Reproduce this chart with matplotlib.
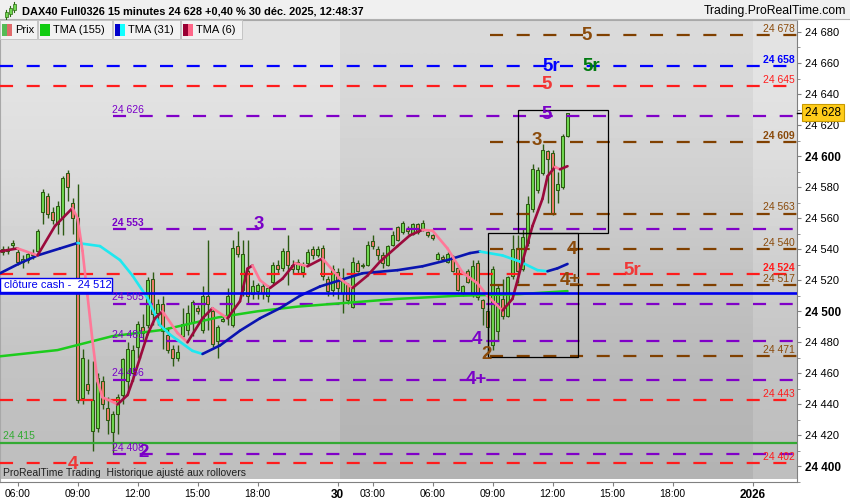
import matplotlib
matplotlib.use("Agg")
import matplotlib.pyplot as plt
from matplotlib.patches import Rectangle
from matplotlib.collections import LineCollection
from matplotlib.transforms import blended_transform_factory

plt.rcParams['font.family'] = ['Liberation Sans', 'DejaVu Sans']
plt.rcParams['lines.scale_dashes'] = False

# ---------------- data ----------------
# 15 min bars : 29 dec 05:15 -> 21:45 (0..66), 30 dec 01:15 -> 12:45 (67..113)
opens = [24540, 24539, 24543, 24538, 24532, 24533, 24537, 24539, 24564, 24574,
         24564, 24556, 24561, 24589, 24570, 24560, 24444, 24453, 24423, 24425,
         24455, 24438, 24422, 24434, 24446, 24455, 24460, 24477, 24490, 24491,
         24521, 24499, 24505, 24485, 24476, 24470, 24484, 24488, 24493, 24502,
         24488, 24510, 24500, 24481, 24494, 24496, 24491, 24542, 24514, 24526,
         24511, 24513, 24516, 24510, 24519, 24530, 24528, 24539, 24530, 24527,
         24525, 24531, 24540, 24536, 24541, 24521, 24514, 24525, 24512, 24517,
         24503, 24531, 24529, 24530, 24545, 24540, 24536, 24530, 24543, 24554,
         24551, 24553, 24550, 24556, 24553, 24551, 24549, 24534, 24535, 24532,
         24535, 24528, 24512, 24526, 24511, 24531, 24507, 24500, 24478, 24487,
         24508, 24497, 24523, 24541, 24527, 24544, 24566, 24578, 24589, 24603,
         24602, 24578, 24580, 24613]
highs = [24542, 24542, 24546, 24540, 24536, 24538, 24540, 24553, 24579, 24576,
         24567, 24571, 24587, 24591, 24573, 24582, 24476, 24469, 24468, 24460,
         24458, 24445, 24436, 24447, 24470, 24480, 24478, 24494, 24498, 24522,
         24525, 24508, 24510, 24490, 24478, 24478, 24502, 24504, 24507, 24504,
         24516, 24546, 24502, 24491, 24497, 24515, 24546, 24552, 24546, 24546,
         24520, 24518, 24518, 24517, 24532, 24533, 24541, 24549, 24533, 24534,
         24532, 24540, 24542, 24542, 24543, 24523, 24530, 24528, 24528, 24518,
         24535, 24533, 24531, 24545, 24549, 24542, 24538, 24543, 24552, 24555,
         24558, 24555, 24557, 24557, 24559, 24552, 24550, 24538, 24536, 24538,
         24536, 24530, 24517, 24527, 24533, 24533, 24508, 24502, 24529, 24517,
         24521, 24523, 24549, 24549, 24553, 24574, 24595, 24593, 24608, 24604,
         24604, 24590, 24614, 24628]
lows = [24536, 24537, 24541, 24530, 24528, 24531, 24534, 24537, 24556, 24560,
        24556, 24550, 24549, 24571, 24550, 24441, 24440, 24447, 24410, 24422,
        24437, 24421, 24408, 24421, 24440, 24447, 24455, 24470, 24481, 24489,
        24491, 24491, 24476, 24473, 24465, 24468, 24483, 24485, 24484, 24498,
        24486, 24488, 24477, 24470, 24493, 24491, 24490, 24535, 24510, 24505,
        24508, 24508, 24508, 24506, 24517, 24524, 24526, 24517, 24524, 24524,
        24522, 24530, 24534, 24535, 24520, 24510, 24510, 24508, 24499, 24505,
        24502, 24525, 24528, 24529, 24540, 24533, 24528, 24529, 24542, 24545,
        24550, 24550, 24549, 24550, 24552, 24548, 24546, 24533, 24533, 24531,
        24525, 24513, 24510, 24518, 24509, 24507, 24491, 24472, 24475, 24481,
        24495, 24496, 24521, 24518, 24526, 24542, 24564, 24576, 24588, 24570,
        24562, 24570, 24579, 24612]
closes = [24538, 24540, 24544, 24532, 24534, 24537, 24536, 24552, 24577, 24563,
          24559, 24568, 24586, 24580, 24560, 24443, 24470, 24449, 24443, 24457,
          24440, 24430, 24434, 24445, 24469, 24476, 24475, 24492, 24486, 24520,
          24498, 24505, 24487, 24475, 24470, 24474, 24492, 24499, 24506, 24500,
          24510, 24505, 24479, 24490, 24495, 24510, 24541, 24537, 24537, 24510,
          24516, 24517, 24512, 24515, 24530, 24527, 24539, 24530, 24527, 24532,
          24530, 24538, 24536, 24540, 24523, 24513, 24527, 24515, 24520, 24507,
          24532, 24526, 24530, 24543, 24542, 24536, 24531, 24542, 24549, 24546,
          24557, 24552, 24556, 24551, 24557, 24549, 24547, 24537, 24534, 24537,
          24526, 24514, 24516, 24519, 24529, 24509, 24502, 24490, 24527, 24515,
          24497, 24522, 24540, 24526, 24548, 24569, 24592, 24591, 24604, 24598,
          24563, 24582, 24613, 24628]

# moving averages (bar index, value)
tma155_x = [-0.5, 11, 22, 32, 43, 51, 59, 67, 79, 91, 103, 113]
tma155 = [24471, 24475, 24484, 24488, 24496, 24500, 24503, 24505, 24508, 24510, 24511, 24513]

tma31_x = [-0.5, 3.5, 7, 11.5, 15, 19.5, 23.5, 26, 29, 31.5, 33.5, 35, 38, 40, 43.5,
           47.5, 51.5, 55.5, 59.5, 63.5, 67.5, 72, 79, 84, 89, 93.5, 95.5, 100,
           103.5, 107, 109, 111, 113]
tma31 = [24524.5, 24531, 24536, 24540.5, 24544, 24542, 24533, 24523, 24508.5, 24491,
         24485, 24481.5, 24474.5, 24472.5, 24478, 24487.5, 24495.5, 24502, 24510,
         24516, 24520, 24524.5, 24526.5, 24529, 24533, 24537.5, 24538.5, 24536,
         24532, 24526.5, 24525.8, 24527.7, 24530.5]

tma6_x = [-0.5, 3, 7, 10.5, 14, 15, 16, 17, 18, 19, 20, 21.5, 23, 25, 26, 27.5, 29,
          30.5, 32, 35, 37, 40, 42, 45, 47.5, 49, 50, 51.5, 53.5, 56, 58.5, 61, 64,
          67.5, 70, 73, 75.5, 79, 81.5, 84, 86, 89, 92, 95, 97, 100, 102, 104, 106,
          108, 109, 110.5, 111.5, 113]
tma6 = [24538.6, 24540.5, 24536, 24555, 24566.5, 24560, 24539, 24510, 24481, 24455,
        24444.5, 24442.5, 24440, 24446, 24455, 24470, 24485, 24495.5, 24500, 24486,
        24480, 24495.5, 24502, 24495.5, 24506.5, 24527.5, 24529.5, 24520, 24515,
        24521, 24531, 24529, 24534, 24521, 24515, 24523, 24532, 24542, 24549,
        24552.5, 24552, 24540.5, 24525, 24518, 24510, 24500.5, 24508, 24532, 24555,
        24572.5, 24587, 24593, 24591.5, 24593.5]

red_levels = [24645, 24524, 24443, 24402]
purple_levels = [24626, 24553, 24505, 24481, 24456, 24408]
brown_levels = [24678, 24609, 24563, 24540, 24517, 24471]
blue_level = 24658
cash_close = 24512
green_level = 24415
last_price = 24628

# boxes: (first bar, last bar, low, high)
boxes = [(103, 121, 24550.5, 24630), (97, 115, 24470.5, 24550.5)]

tick_pos = [3, 15, 27, 39, 51, 67, 74, 86, 98, 110, 122, 134, 150]
tick_labels = ['06:00', '09:00', '12:00', '15:00', '18:00', '30', '03:00',
               '06:00', '09:00', '12:00', '15:00', '18:00', '2026']

title = "DAX40 Full0326 15 minutes 24 628 +0,40 % 30 déc. 2025, 12:48:37"

BROWN = '#8a4a0a'
PURPLE = '#7a00c8'
RED = '#ff1c1c'
BLUE = '#0000ff'

W, H = 850, 500


def fx(px):
    return px / W


def fy(py):
    return 1 - py / H


def fmt(v):
    return "{:,}".format(int(v)).replace(",", " ")


fig = plt.figure(figsize=(8.5, 5), dpi=100, facecolor='white')
ax = fig.add_axes([0, fy(482), fx(797), (482 - 20) / H])

# background gradient (day 29 / day 30 / future)
for x0, x1, top, bot in [(-0.5, 67.5, 0.90, 0.74), (67.5, 150, 0.86, 0.70), (150, 158.9, 0.90, 0.74)]:
    ax.imshow([[top], [bot]], extent=(x0, x1, 24392, 24687.7), cmap='gray', vmin=0, vmax=1,
              aspect='auto', interpolation='bicubic', zorder=0)
ax.set_xlim(-0.5, 158.9)
ax.set_ylim(24392, 24687.7)

# candles
for i in range(len(opens)):
    o, h, l, c = opens[i], highs[i], lows[i], closes[i]
    ax.vlines(i, l, h, color='#2c5a12', lw=1.0, zorder=2)
    if abs(c - o) < 1:
        ax.hlines(o, i - 0.35, i + 0.35, color='#2c5a12', lw=1.0, zorder=2)
    else:
        fc = '#70d850' if c > o else '#ee7a6a'
        ax.add_patch(Rectangle((i - 0.34, min(o, c)), 0.68, abs(c - o), facecolor=fc,
                               edgecolor='#2c5a12', lw=0.75, zorder=2.1))


def colored_line(xs, ys, up, down, lw=1.9):
    segs, cols = [], []
    for k in range(len(xs) - 1):
        segs.append([(xs[k], ys[k]), (xs[k + 1], ys[k + 1])])
        cols.append(up if ys[k + 1] >= ys[k] else down)
    ax.add_collection(LineCollection(segs, colors=cols, linewidths=lw, capstyle='round', zorder=3.5))


ax.plot(tma155_x, tma155, color='#1ccc1c', lw=1.8, zorder=3.4, solid_capstyle='round')
colored_line(tma31_x, tma31, '#0a14b0', '#1ee8f0')
colored_line(tma6_x, tma6, '#9b0a3c', '#ff7898')

# horizontal levels
dash = (9.4, 9.8)
for lv in red_levels:
    ax.plot([-0.5, 158.9], [lv, lv], color=RED, lw=1.6, dashes=dash, zorder=3)
ax.plot([-0.5, 158.9], [blue_level] * 2, color=BLUE, lw=1.6, dashes=dash, zorder=3)
for lv in purple_levels:
    ax.plot([22, 158.9], [lv, lv], color='#8000c8', lw=1.6, dashes=dash, zorder=3)
for lv in brown_levels:
    ax.plot([97.5, 158.9], [lv, lv], color='#804000', lw=1.6, dashes=dash, zorder=3)
ax.plot([-0.5, 158.9], [cash_close] * 2, color='#0000ee', lw=1.9, zorder=3.6)
ax.plot([-0.5, 158.9], [green_level] * 2, color='#33aa33', lw=1.6, zorder=3)

for b in boxes:
    ax.add_patch(Rectangle((b[0], b[2]), b[1] - b[0], b[3] - b[2], fill=False,
                           edgecolor='black', lw=0.9, zorder=5))

# right-hand value tags
right_tags = [(24678, BROWN, 'normal'), (24658, BLUE, 'bold'), (24645, RED, 'normal'),
              (24609, BROWN, 'bold'), (24563, BROWN, 'normal'), (24540, BROWN, 'normal'),
              (24524, RED, 'bold'), (24517, BROWN, 'normal'), (24471, BROWN, 'normal'),
              (24443, RED, 'normal'), (24402, RED, 'normal')]
for lv, col, wt in right_tags:
    ax.text(158.4, lv + 0.8, fmt(lv), color=col, fontsize=7.5, weight=wt, ha='right',
            va='bottom', zorder=6)

for lv in purple_levels:
    ax.text(21.8, lv + 0.8, fmt(lv), color=PURPLE, fontsize=7.5,
            weight='bold' if lv == 24553 else 'normal', ha='left', va='bottom', zorder=6)

ax.text(0.1, green_level + 1.2, fmt(green_level), color='#33aa33', fontsize=7.5,
        ha='left', va='bottom', zorder=6)

ax.add_patch(Rectangle((-0.5, cash_close + 0.4), 22.3, 9, facecolor='white',
                       edgecolor='#0000ee', lw=1.0, zorder=6))
ax.text(0.2, cash_close + 4.9, "clôture cash -  " + fmt(cash_close), color='#0000ee',
        fontsize=8, ha='left', va='center', zorder=7)

# wave labels
wave_tags = [("5", 116.8, 24678, BROWN), ("5r", 109.8, 24658, BLUE), ("5r", 117.8, 24658, '#007a10'),
             ("5", 108.8, 24646, '#f03838'), ("5", 108.8, 24627, PURPLE), ("3", 106.8, 24610, BROWN),
             ("4", 113.8, 24540, BROWN), ("5r", 126, 24526, '#f03838'), ("4±", 113.6, 24520, BROWN),
             ("3", 51.2, 24556, PURPLE), ("4", 94.8, 24482, PURPLE), ("2", 96.8, 24472, BROWN),
             ("4+", 94.8, 24456, PURPLE), ("2", 28.3, 24409, PURPLE), ("4", 14, 24401, '#f03838')]
for txt, xi, yv, col in wave_tags:
    ax.text(xi, yv, txt, color=col, fontsize=13.5, weight='bold', ha='center', va='center',
            zorder=6)

ax.text(0.1, 24396, "ProRealTime Trading  Historique ajusté aux rollovers", fontsize=7.5,
        color='#202020', ha='left', va='center', zorder=6)

# axes styling
for s in ['left', 'top']:
    ax.spines[s].set_color('#a8a8a8')
ax.spines['right'].set_color('#808080')
ax.spines['bottom'].set_color('#808080')
ax.yaxis.tick_right()
ax.set_yticks(range(24400, 24681, 20))
ax.set_yticks(range(24390, 24690, 10), minor=True)
ax.set_yticklabels([fmt(v) for v in range(24400, 24681, 20)])
for lab, v in zip(ax.get_yticklabels(), range(24400, 24681, 20)):
    if v % 100 == 0:
        lab.set_fontweight('bold')
        lab.set_fontsize(8.5)
    else:
        lab.set_fontsize(8)
ax.tick_params(axis='y', which='major', length=3, pad=3, color='#808080')
ax.tick_params(axis='y', which='minor', length=2, color='#808080')

ax.set_xticks(tick_pos)
ax.set_xticklabels(tick_labels)
for lab, t in zip(ax.get_xticklabels(), tick_labels):
    if t in ('30', '2026'):
        lab.set_fontweight('bold')
        lab.set_fontsize(8.5)
    else:
        lab.set_fontsize(7.5)
ax.tick_params(axis='x', length=3, pad=2, color='#808080')

# last price tag
tr = blended_transform_factory(ax.transAxes, ax.transData)
ax.plot([1.0, 1.008], [last_price, last_price], color='black', lw=1, transform=tr, clip_on=False, zorder=8)
ax.text(1.01, last_price, fmt(last_price), transform=tr, fontsize=8.5, ha='left', va='center',
        bbox=dict(boxstyle='square,pad=0.22', fc='#ffcc1a', ec='#c89a00', lw=0.8), zorder=9)

# title bar
fig.add_artist(Rectangle((0, fy(19)), 1, 19 / H, transform=fig.transFigure, facecolor='#f0f0f0',
                         edgecolor='none', zorder=1))
fig.add_artist(plt.Line2D([0, 1], [fy(19), fy(19)], transform=fig.transFigure, color='#b0b0b0', lw=0.8))
fig.text(fx(22), fy(11), title, fontsize=7.9, weight='bold', va='center', ha='left', zorder=3)
fig.text(fx(846), fy(11), "Trading.ProRealTime.com", fontsize=8.8, va='center', ha='right', zorder=3)
for k, (px, top, bot) in enumerate([(6, 12, 17), (10, 8, 14), (14, 4, 10)]):
    fig.add_artist(plt.Line2D([fx(px), fx(px)], [fy(bot + 2), fy(top - 2)], transform=fig.transFigure,
                              color='#2c6a12', lw=0.8, zorder=3))
    fig.add_artist(Rectangle((fx(px - 1.5), fy(bot)), 3 / W, (bot - top) / H, transform=fig.transFigure,
                             facecolor='#70d850', edgecolor='#2c6a12', lw=0.5, zorder=4))

# legend row
legend_items = [("Prix", ('#55bb55', '#e06a6a'), 0, 37), ("TMA (155)", ('#11cc11', '#11cc11'), 38, 112),
                ("TMA (31)", ('#0000cc', '#11ffff'), 113, 180), ("TMA (6)", ('#990033', '#ff6688'), 181, 242)]
for name, cols, x0, x1 in legend_items:
    fig.add_artist(Rectangle((fx(x0), fy(39)), (x1 - x0) / W, 19 / H, transform=fig.transFigure,
                             facecolor='#f2f2f2', edgecolor='#c4c4c4', lw=0.7, zorder=5))
    fig.add_artist(Rectangle((fx(x0 + 2), fy(36)), 5 / W, 12 / H, transform=fig.transFigure,
                             facecolor=cols[0], edgecolor='none', zorder=6))
    fig.add_artist(Rectangle((fx(x0 + 7), fy(36)), 5 / W, 12 / H, transform=fig.transFigure,
                             facecolor=cols[1], edgecolor='none', zorder=6))
    fig.text(fx(x0 + 15), fy(30), name, fontsize=8, va='center', ha='left', zorder=7)

fig.savefig("out.png", dpi=100)
